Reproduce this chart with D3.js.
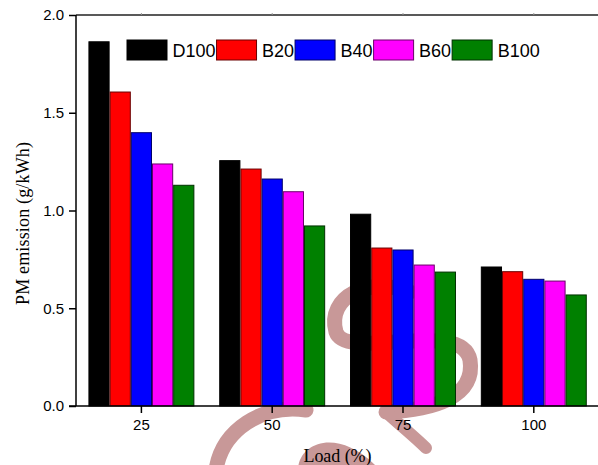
<!DOCTYPE html>
<html>
<head>
<meta charset="utf-8">
<script src="https://cdn.jsdelivr.net/npm/d3@7"></script>
<style>
  html, body { margin: 0; padding: 0; background: #fff; }
  svg { display: block; }
</style>
</head>
<body>
<svg id="chart" width="598" height="465"></svg>
<script>
const categories = ["25", "50", "75", "100"];
const seriesNames = ["D100", "B20", "B40", "B60", "B100"];
const D100 = [1.863, 1.255, 0.981, 0.711];
const B20  = [1.606, 1.212, 0.808, 0.687];
const B40  = [1.398, 1.161, 0.798, 0.648];
const B60  = [1.238, 1.096, 0.721, 0.639];
const B100 = [1.129, 0.921, 0.685, 0.568];
const seriesValues = [D100, B20, B40, B60, B100];
const yTicks = [0.0, 0.5, 1.0, 1.5, 2.0];
const fills = ["#000000", "#ff0000", "#0000ff", "#ff00ff", "#008000"];
const strokes = ["#000000", "#6a0000", "#00006a", "#6a006a", "#003000"];

(function () {
const svg = d3.select("#chart");
const sans = "'Liberation Sans', Arial, Helvetica, sans-serif";
const serif = "'Liberation Serif', 'Times New Roman', Times, serif";

const pL = 76, pR = 599.2, pT = 15, pB = 406;

const x0 = d3.scaleBand().domain(categories).range([pL, pR])
  .paddingInner(0.19).paddingOuter(0.095);
const x1 = d3.scaleBand().domain(seriesNames).range([0, x0.bandwidth()]).padding(0);
const y = d3.scaleLinear().domain([0, 2]).range([pB, pT]);

// watermark (behind)
const wm = svg.append("g").attr("fill", "none").attr("stroke", "#c89898")
  .attr("stroke-linecap", "round");
wm.append("path").attr("stroke-width", 15)
  .attr("d", "M 410 292 C 370 276, 326 296, 336 332 C 346 362, 462 318, 470 360 C 476 398, 432 410, 386 412");
wm.append("path").attr("stroke-width", 12)
  .attr("d", "M 386 412 C 400 425, 415 437, 426 448");
wm.append("path").attr("stroke-width", 15)
  .attr("d", "M 216 470 C 222 430, 262 404, 306 410");
svg.append("path").attr("fill", "#c89898")
  .attr("d", "M 298 470 C 298 444, 336 426, 376 466 Z");

// bars
const groups = svg.append("g").selectAll("g").data(categories).join("g")
  .attr("transform", d => `translate(${x0(d)},0)`);
groups.selectAll("rect")
  .data((c, ci) => seriesNames.map((s, si) => ({ s, si, v: seriesValues[si][ci] })))
  .join("rect")
  .attr("x", d => x1(d.s) + 0.5)
  .attr("y", d => y(d.v))
  .attr("width", x1.bandwidth() - 1)
  .attr("height", d => y(0) - y(d.v))
  .attr("fill", d => fills[d.si])
  .attr("stroke", d => strokes[d.si])
  .attr("stroke-width", 1);

// frame lines
svg.append("line").attr("x1", pL).attr("x2", 598).attr("y1", pT).attr("y2", pT)
  .attr("stroke", "#222").attr("stroke-width", 1.5);
svg.append("line").attr("x1", pR).attr("x2", pR).attr("y1", pT).attr("y2", pB)
  .attr("stroke", "#222").attr("stroke-width", 1.5);
svg.append("g").selectAll("line").data(categories).join("line")
  .attr("x1", d => x0(d) + x0.bandwidth() / 2).attr("x2", d => x0(d) + x0.bandwidth() / 2)
  .attr("y1", pT - 2).attr("y2", pT)
  .attr("stroke", "#999").attr("stroke-width", 1);

// y axis
const yAxis = svg.append("g").attr("transform", `translate(${pL},0)`)
  .call(d3.axisLeft(y).tickValues(yTicks).tickFormat(d3.format(".1f")).tickSize(7).tickPadding(5));
yAxis.select(".domain").attr("stroke", "#000").attr("stroke-width", 1.5)
  .attr("d", `M0,${pT}V${pB}`);
yAxis.selectAll(".tick line").attr("stroke", "#000").attr("stroke-width", 1.5);
yAxis.selectAll(".tick text").attr("font-family", sans).attr("font-size", 15).attr("fill", "#000");

// x axis
const xAxis = svg.append("g").attr("transform", `translate(0,${pB})`)
  .call(d3.axisBottom(x0).tickSize(7).tickPadding(6));
xAxis.select(".domain").attr("stroke", "#000").attr("stroke-width", 1.5)
  .attr("d", `M${pL - 7},0H598`);
xAxis.selectAll(".tick line").attr("stroke", "#000").attr("stroke-width", 1.5);
xAxis.selectAll(".tick text").attr("font-family", sans).attr("font-size", 15).attr("fill", "#000");

// axis titles
svg.append("text").attr("x", 337.5).attr("y", 462).attr("text-anchor", "middle")
  .attr("font-family", serif).attr("font-size", 18).attr("fill", "#000")
  .attr("textLength", 68).attr("lengthAdjust", "spacing").text("Load (%)");
svg.append("text").attr("transform", "translate(29,223.5) rotate(-90)")
  .attr("text-anchor", "middle").attr("font-family", serif).attr("font-size", 18)
  .attr("fill", "#000").attr("textLength", 163).attr("lengthAdjust", "spacing")
  .text("PM emission (g/kWh)");

// legend
const legend = svg.append("g");
let lx = 127;
seriesNames.forEach((name, i) => {
  legend.append("rect").attr("x", lx).attr("y", 40).attr("width", 40).attr("height", 20)
    .attr("fill", fills[i]).attr("stroke", strokes[i]).attr("stroke-width", 1);
  const t = legend.append("text").attr("x", lx + 45.5).attr("y", 56.5)
    .attr("font-family", sans).attr("font-size", 18).attr("fill", "#000").text(name);
  lx = lx + 45.5 + t.node().getComputedTextLength() + 1;
});
})();
</script>
</body>
</html>
